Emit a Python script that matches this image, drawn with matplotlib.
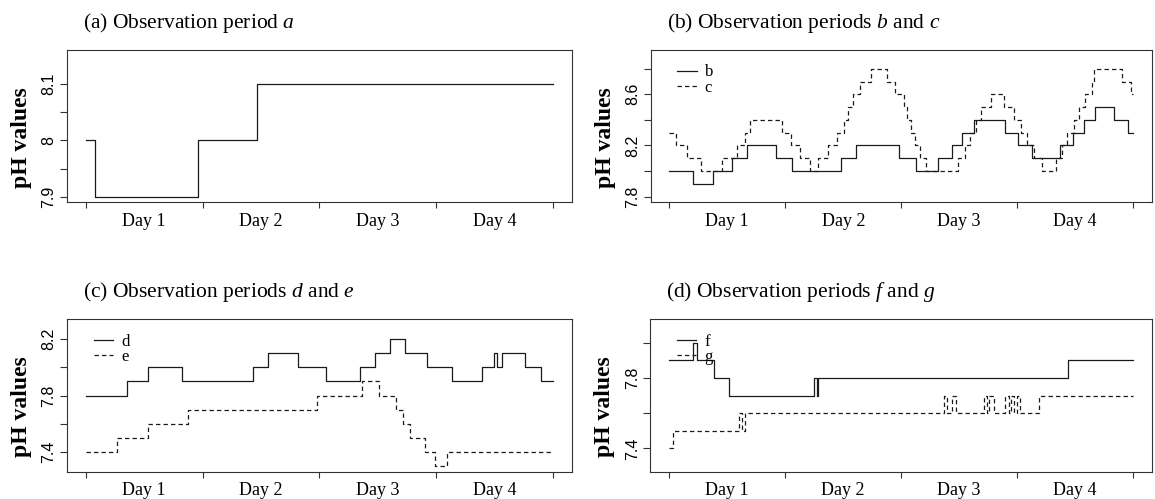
import matplotlib
matplotlib.use("Agg")
import matplotlib.pyplot as plt

plt.rcParams["mathtext.fontset"] = "custom"
plt.rcParams["mathtext.rm"] = "Liberation Serif"
plt.rcParams["mathtext.it"] = "Liberation Serif:italic"

SERIF = "Liberation Serif"
SANS = "Liberation Sans"
LINE_COLOR = "#1a1a1a"

# change points (days) and pH levels; each level holds until the next time
a_t = [0.0, 0.08, 0.96, 1.47, 4.0]
a_v = [8.0, 7.9, 8.0, 8.1, 8.1]

b_t = [0.0, 0.208, 0.376, 0.541, 0.669, 0.917, 1.062, 1.480, 1.608, 1.984, 2.129,
       2.314, 2.434, 2.528, 2.627, 2.898, 3.003, 3.131, 3.373, 3.479, 3.578, 3.672,
       3.837, 3.957, 4.0]
b_v = [8.0, 7.9, 8.0, 8.1, 8.2, 8.1, 8.0, 8.1, 8.2, 8.1, 8.0,
       8.1, 8.2, 8.3, 8.4, 8.3, 8.2, 8.1, 8.2, 8.3, 8.4, 8.5,
       8.4, 8.3, 8.3]

c_t = [0.0, 0.057, 0.151, 0.270, 0.455, 0.584, 0.649, 0.697, 0.976, 1.053, 1.124,
       1.210, 1.281, 1.366, 1.446, 1.503, 1.543, 1.588, 1.645, 1.736, 1.873, 1.950,
       2.021, 2.050, 2.084, 2.121, 2.163, 2.215, 2.491, 2.548, 2.590, 2.642, 2.690,
       2.775, 2.889, 2.975, 3.032, 3.080, 3.145, 3.211, 3.336, 3.387, 3.430, 3.487,
       3.530, 3.587, 3.644, 3.658, 3.900, 3.985, 4.0]
c_v = [8.3, 8.2, 8.1, 8.0, 8.1, 8.2, 8.3, 8.4, 8.3, 8.2, 8.1,
       8.0, 8.1, 8.2, 8.3, 8.4, 8.5, 8.6, 8.7, 8.8, 8.7, 8.6,
       8.5, 8.4, 8.3, 8.2, 8.1, 8.0, 8.1, 8.2, 8.3, 8.4, 8.5,
       8.6, 8.5, 8.4, 8.3, 8.2, 8.1, 8.0, 8.1, 8.2, 8.3, 8.4,
       8.5, 8.6, 8.7, 8.8, 8.7, 8.6, 8.6]

d_t = [0.0, 0.354, 0.537, 0.827, 1.436, 1.563, 1.815, 2.058, 2.352, 2.478, 2.605,
       2.731, 2.920, 3.132, 3.394, 3.498, 3.523, 3.567, 3.763, 3.899, 4.0]
d_v = [7.8, 7.9, 8.0, 7.9, 8.0, 8.1, 8.0, 7.9, 8.0, 8.1, 8.2,
       8.1, 8.0, 7.9, 8.0, 8.1, 8.0, 8.1, 8.0, 7.9, 7.9]

e_t = [0.0, 0.268, 0.537, 0.875, 1.979, 2.368, 2.510, 2.658, 2.715, 2.772, 2.904,
       2.993, 3.094, 4.0]
e_v = [7.4, 7.5, 7.6, 7.7, 7.8, 7.9, 7.8, 7.7, 7.6, 7.5, 7.4,
       7.3, 7.4, 7.4]

f_t = [0.0, 0.208, 0.242, 0.393, 0.518, 1.252, 1.272, 1.289, 3.439, 4.0]
f_v = [7.9, 8.0, 7.9, 7.8, 7.7, 7.8, 7.7, 7.8, 7.9, 7.9]

g_t = [0.0, 0.037, 0.606, 0.630, 0.656, 2.371, 2.397, 2.440, 2.471, 2.713, 2.741,
       2.761, 2.804, 2.898, 2.926, 2.946, 2.975, 2.995, 3.023, 3.188, 4.0]
g_v = [7.4, 7.5, 7.6, 7.5, 7.6, 7.7, 7.6, 7.7, 7.6, 7.7, 7.6,
       7.7, 7.6, 7.7, 7.6, 7.7, 7.6, 7.7, 7.6, 7.7, 7.7]

day_ticks = [0, 1, 2, 3, 4]
day_labels = ["Day 1", "Day 2", "Day 3", "Day 4"]

panels = [
    # rect, title, ylim, yticks, ylabels, series
    ([0.058, 0.5946, 0.437, 0.3046], "(a) Observation period $a$",
     (7.89, 8.16), [7.9, 7.95, 8.0, 8.05, 8.1], ["7.9", "", "8", "", "8.1"],
     [(a_t, a_v, "-", None)]),
    ([0.5634, 0.5946, 0.4338, 0.3046], "(b) Observation periods $b$ and $c$",
     (7.756, 8.944), [7.8, 8.0, 8.2, 8.4, 8.6, 8.8], ["7.8", "", "8.2", "", "8.6", ""],
     [(b_t, b_v, "-", "b"), (c_t, c_v, "--", "c")]),
    ([0.058, 0.0547, 0.437, 0.3054], "(c) Observation periods $d$ and $e$",
     (7.26, 8.34), [7.4, 7.6, 7.8, 8.0, 8.2], ["7.4", "", "7.8", "", "8.2"],
     [(d_t, d_v, "-", "d"), (e_t, e_v, "--", "e")]),
    ([0.563, 0.0547, 0.4342, 0.3054], "(d) Observation periods $f$ and $g$",
     (7.268, 8.132), [7.4, 7.6, 7.8, 8.0], ["7.4", "", "7.8", ""],
     [(f_t, f_v, "-", "f"), (g_t, g_v, "--", "g")]),
]

fig = plt.figure(figsize=(11.55, 4.99), dpi=100)

for rect, title, ylim, yticks, ylabels, series in panels:
    ax = fig.add_axes(rect)
    for k, (t, v, ls, lab) in enumerate(series):
        line, = ax.step(t, v, where="post", color=LINE_COLOR, lw=0.9, linestyle=ls)
        if ls == "--":
            line.set_dashes((3.5, 2.5))
        if lab is not None:
            # R-style legend without a box, rows packed tightly like the original
            yl = 0.866 - 0.102 * k
            leg, = ax.plot([0.053, 0.092], [yl, yl], transform=ax.transAxes,
                           color=LINE_COLOR, lw=0.9, linestyle=ls)
            if ls == "--":
                leg.set_dashes((3.5, 2.5))
            ax.text(0.108, yl - 0.038, lab, transform=ax.transAxes, fontsize=12,
                    family=SERIF, va="baseline", ha="left")

    ax.set_xlim(-0.16, 4.16)
    ax.set_ylim(*ylim)
    ax.set_xticks(day_ticks)
    ax.set_xticklabels([])
    ax.set_xticks([0.5, 1.5, 2.5, 3.5], minor=True)
    ax.set_xticklabels(day_labels, minor=True, fontsize=13, family=SERIF)
    ax.tick_params(axis="x", which="major", length=4, width=0.8, color="#333333")
    ax.tick_params(axis="x", which="minor", length=0, pad=7.4)
    ax.set_yticks(yticks)
    ax.set_yticklabels(ylabels, rotation=90, va="center", fontsize=11.5, family=SANS)
    ax.tick_params(axis="y", length=5, width=0.8, pad=2.5, color="#333333")
    for sp in ax.spines.values():
        sp.set_linewidth(0.8)
        sp.set_color("#333333")

    ax.text(-0.091, 0.428, "pH values", transform=ax.transAxes, rotation=90,
            fontsize=17, family=SERIF, weight="bold", ha="center", va="center")
    ax.text(0.032, 1.145, title, transform=ax.transAxes, fontsize=15.5,
            family=SERIF, ha="left", va="baseline")

fig.savefig("out.png", dpi=100)
